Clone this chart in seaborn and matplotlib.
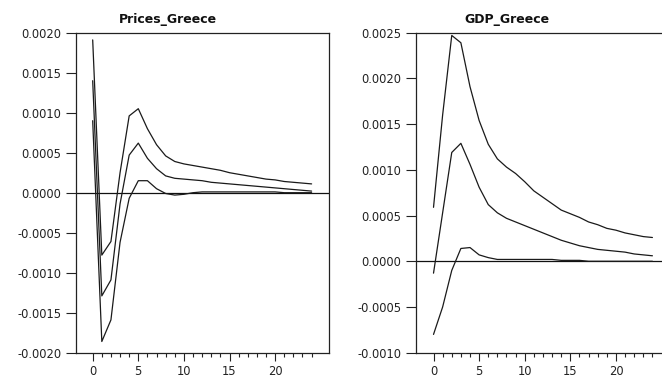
import numpy as np
import pandas as pd
import matplotlib
matplotlib.use("Agg")
import matplotlib.pyplot as plt
from matplotlib.ticker import FixedLocator
import seaborn as sns

# Impulse responses (horizon 0..24) with upper/lower bands
horizon = list(range(25))

prices_upper = [0.00191, -0.00078, -0.00061, 0.00025, 0.00096, 0.00105, 0.00080, 0.00060,
                0.00046, 0.00039, 0.00036, 0.00034, 0.00032, 0.00030, 0.00028, 0.00025,
                0.00023, 0.00021, 0.00019, 0.00017, 0.00016, 0.00014, 0.00013, 0.00012, 0.00011]
prices_mid = [0.00140, -0.00129, -0.00109, -0.00014, 0.00047, 0.00062, 0.00043, 0.00030,
              0.00021, 0.00018, 0.00017, 0.00016, 0.00015, 0.00013, 0.00012, 0.00011,
              0.00010, 0.00009, 0.00008, 0.00007, 0.00006, 0.00005, 0.00004, 0.00003, 0.00002]
prices_lower = [0.00090, -0.00186, -0.00159, -0.00062, -0.00007, 0.00015, 0.00015, 0.00005,
                -0.00001, -0.00003, -0.00002, 0.00000, 0.00001, 0.00001, 0.00001, 0.00001,
                0.00001, 0.00001, 0.00001, 0.00001, 0.00001, 0.00000, 0.00000, 0.00000, 0.00000]

gdp_upper = [0.00059, 0.00160, 0.00247, 0.00239, 0.00191, 0.00154, 0.00128, 0.00112,
             0.00103, 0.00096, 0.00087, 0.00077, 0.00070, 0.00063, 0.00056, 0.00052,
             0.00048, 0.00043, 0.00040, 0.00036, 0.00034, 0.00031, 0.00029, 0.00027, 0.00026]
gdp_mid = [-0.00013, 0.00053, 0.00119, 0.00129, 0.00106, 0.00081, 0.00062, 0.00053,
           0.00047, 0.00043, 0.00039, 0.00035, 0.00031, 0.00027, 0.00023, 0.00020,
           0.00017, 0.00015, 0.00013, 0.00012, 0.00011, 0.00010, 0.00008, 0.00007, 0.00006]
gdp_lower = [-0.00080, -0.00050, -0.00010, 0.00014, 0.00015, 0.00007, 0.00004, 0.00002,
             0.00002, 0.00002, 0.00002, 0.00002, 0.00002, 0.00002, 0.00001, 0.00001,
             0.00001, 0.00000, 0.00000, 0.00000, 0.00000, 0.00000, 0.00000, 0.00000, 0.00000]

titles = ["Prices_Greece", "GDP_Greece"]
prices_yticks = [0.0020, 0.0015, 0.0010, 0.0005, 0.0000, -0.0005, -0.0010, -0.0015, -0.0020]
gdp_yticks = [0.0025, 0.0020, 0.0015, 0.0010, 0.0005, 0.0000, -0.0005, -0.0010]
xticks = [0, 5, 10, 15, 20]


def long_frame(upper, mid, lower):
    parts = []
    for name, vals in (("upper", upper), ("mid", mid), ("lower", lower)):
        parts.append(pd.DataFrame({"h": horizon, "v": vals, "s": name}))
    return pd.concat(parts, ignore_index=True)


sns.set_style("ticks")
plt.rcParams["font.family"] = ["DejaVu Sans"]

fig = plt.figure(figsize=(6.62, 3.80), dpi=100)
W, H = 662.0, 380.0
ax_w, ax_h = 253.3, 320.0
ax1 = fig.add_axes([76 / W, 1 - 352.7 / H, ax_w / W, ax_h / H])
ax2 = fig.add_axes([416 / W, 1 - 352.7 / H, ax_w / W, ax_h / H])

panels = [
    (ax1, long_frame(prices_upper, prices_mid, prices_lower), prices_yticks, (-1.83, 25.94)),
    (ax2, long_frame(gdp_upper, gdp_mid, gdp_lower), gdp_yticks, (-1.92, 25.85)),
]

line_col = "#1a1a1a"
for ax, df, yt, xl in panels:
    sns.lineplot(data=df, x="h", y="v", units="s", estimator=None,
                 color=line_col, linewidth=0.9, ax=ax, legend=False)
    ax.axhline(0, color="#111111", linewidth=0.9, zorder=1)
    ax.set_xlim(*xl)
    ax.set_ylim(min(yt), max(yt))
    ax.set_yticks(yt)
    ax.set_yticklabels([f"{v:.4f}" for v in yt])
    ax.set_xticks(xticks)
    ax.set_xticklabels([str(t) for t in xticks])
    ax.xaxis.set_minor_locator(FixedLocator(horizon))
    ax.set_xlabel("")
    ax.set_ylabel("")
    for sp in ax.spines.values():
        sp.set_visible(True)
        sp.set_color("#222222")
        sp.set_linewidth(0.9)
    ax.tick_params(axis="y", which="major", direction="out", length=7.2, width=0.8,
                   pad=3.2, labelsize=8.3, colors="#222222")
    ax.tick_params(axis="x", which="major", direction="out", length=5.4, width=0.8,
                   pad=3.5, labelsize=8.3, colors="#222222")
    ax.tick_params(axis="x", which="minor", direction="out", length=3.0, width=0.8,
                   colors="#222222")
    ax.tick_params(axis="y", which="minor", left=False)

# Panel titles are centred over each whole panel, labels included
fig.text(168 / W, 1 - 22.7 / H, titles[0], ha="center", va="baseline",
         fontsize=9, fontweight="bold", color="#111111")
fig.text(507 / W, 1 - 22.7 / H, titles[1], ha="center", va="baseline",
         fontsize=9, fontweight="bold", color="#111111")

fig.savefig("out.png", dpi=100)
